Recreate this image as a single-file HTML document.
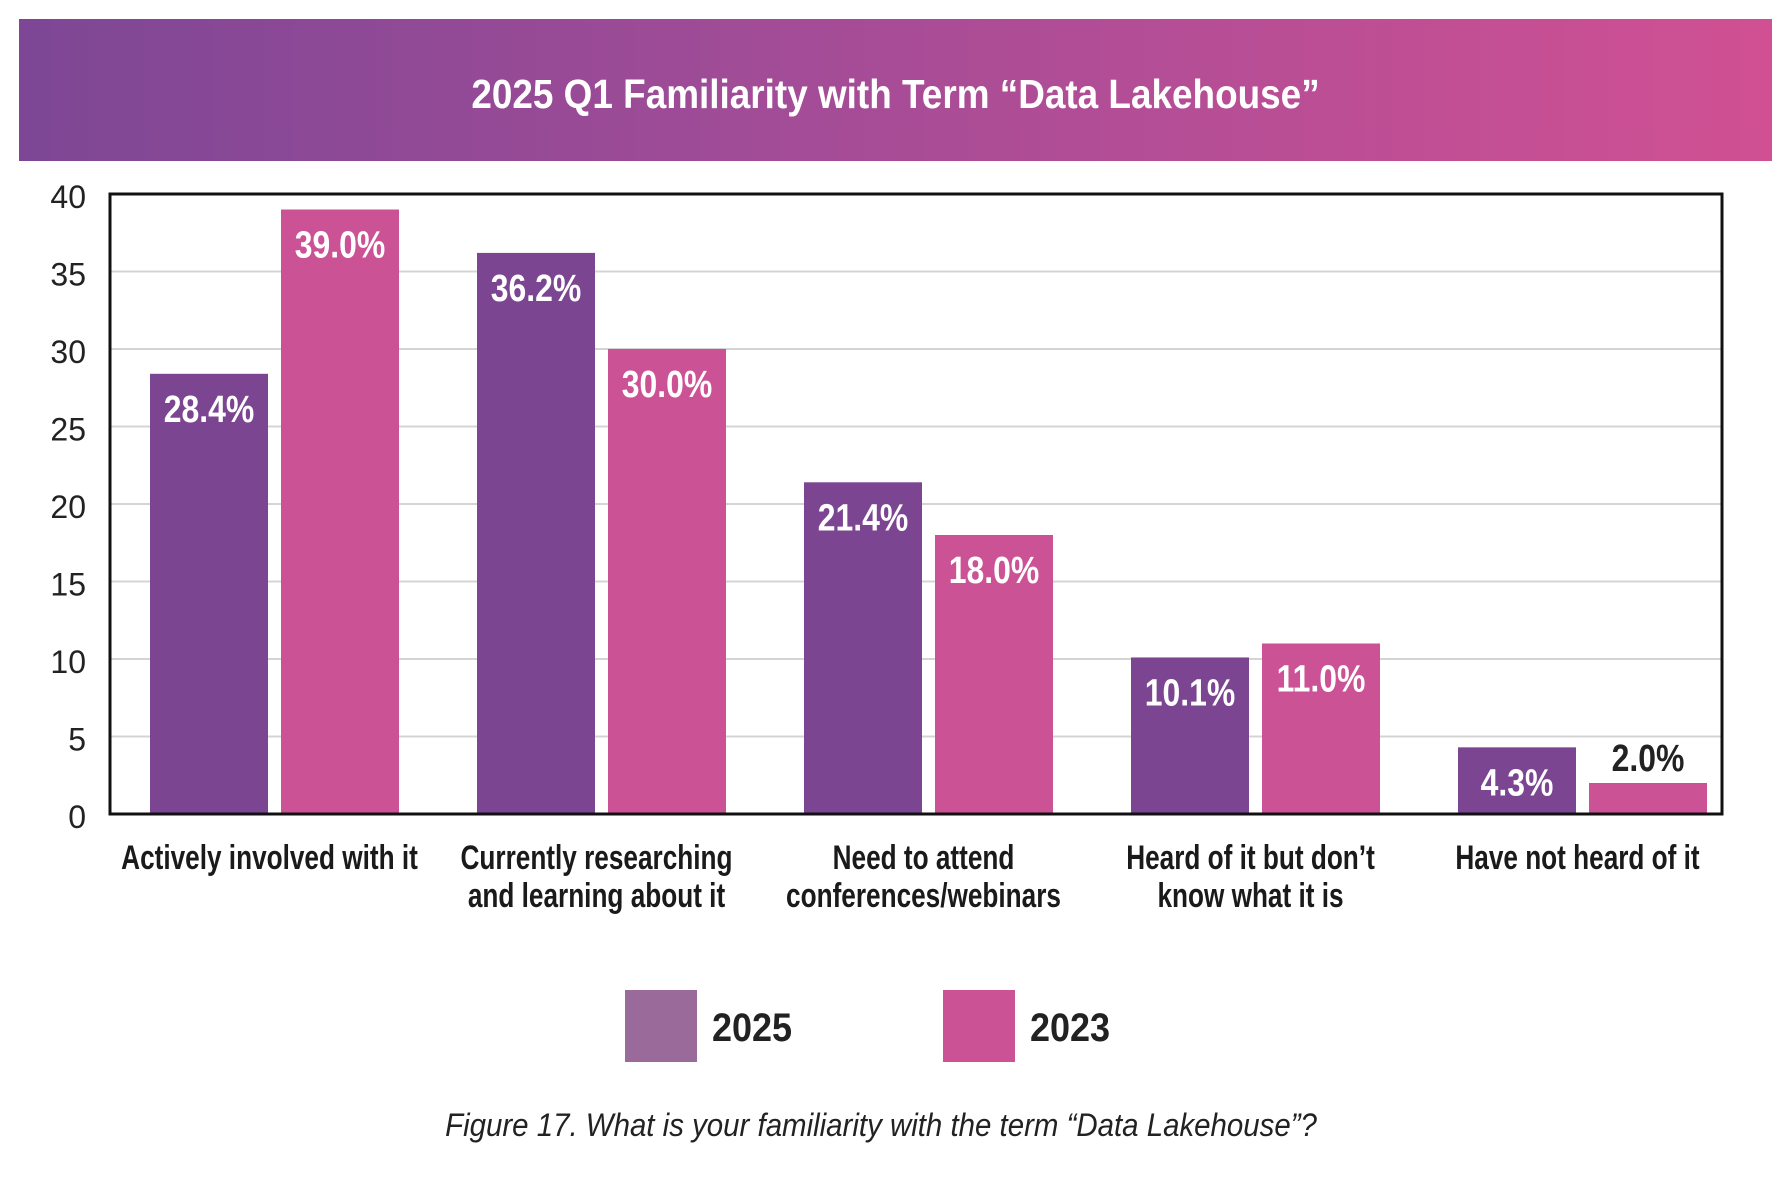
<!DOCTYPE html>
<html><head><meta charset="utf-8">
<style>
body{margin:0;background:#fff;width:1792px;height:1181px;overflow:hidden;font-family:"Liberation Sans",sans-serif;}
#title-band{position:absolute;left:19px;top:19px;width:1753px;height:142px;background:linear-gradient(90deg,#7d4795,#a44c97 45%,#d05093);}
#title-band span{position:absolute;left:0;right:0;top:52px;text-align:center;color:#fff;font-weight:bold;font-size:41px;transform:scaleX(0.9);}
svg{position:absolute;left:0;top:0;}
</style></head><body>
<div id="title-band"><span>2025 Q1 Familiarity with Term “Data Lakehouse”</span></div>
<svg id="chart" width="1792" height="1181"></svg>
<script>
const categories=[["Actively involved with it"],["Currently researching","and learning about it"],["Need to attend","conferences/webinars"],["Heard of it but don’t","know what it is"],["Have not heard of it"]];
const values2025=[28.4,36.2,21.4,10.1,4.3];
const values2023=[39.0,30.0,18.0,11.0,2.0];
const yTicks=[0,5,10,15,20,25,30,35,40];
const seriesNames=["2025","2023"];
const NS="http://www.w3.org/2000/svg";
const svg=document.getElementById('chart');
const L=110,R=1722,T=194,B=814,yMax=40;
const y=v=>B-(v/yMax)*(B-T);
const g0=150,gs=327,bw=118,gap=13;
function mk(tag,attrs,parent){const e=document.createElementNS(NS,tag);for(const k in attrs)e.setAttribute(k,attrs[k]);(parent||svg).appendChild(e);return e;}
yTicks.forEach(t=>{
  if(t>0&&t<yMax){const l=mk('line',{x1:L,x2:R,y1:y(t),y2:y(t),stroke:'#d4d4d4','stroke-width':2});
  
  }
  const tx=mk('text',{x:86,y:y(t)+14,'text-anchor':'end','font-size':32,fill:'#222'});
  tx.textContent=t;
  
  
});
const cols=['#7b4592','#cc5296'];
categories.forEach((c,i)=>{
  [values2025[i],values2023[i]].forEach((v,s)=>{
    const x=g0+i*gs+s*(bw+gap);
    const r=mk('rect',{x:x,y:y(v),width:bw,height:B-y(v),fill:cols[s]});
    
    
    const inside=(B-y(v))>50;
    const ty=inside?y(v)+48:y(v)-12;
    const t=mk('text',{x:0,y:0,transform:'translate('+(x+bw/2)+','+ty+') scale(0.84,1)','text-anchor':'middle','font-size':38,'font-weight':'bold',fill:inside?'#fff':'#222'});
    t.textContent=v.toFixed(1)+'%';
    
    
  });
  const cx=g0+i*gs+bw+gap/2-5;
  c.forEach((line,j)=>{
    const t=mk('text',{x:0,y:0,transform:'translate('+cx+','+(869+j*38)+') scale(0.77,1)','text-anchor':'middle','font-size':34,'font-weight':'bold',fill:'#1a1a1a'});
    t.textContent=line;
    
    
  });
});
const f=mk('rect',{x:L,y:T,width:R-L,height:B-T,fill:'none',stroke:'#111','stroke-width':3});


const legCols=['#9a6a9a','#cc5296'];
[625,943].forEach((lx,s)=>{
  const r=mk('rect',{x:lx,y:990,width:72,height:72,fill:legCols[s]});
  
  
  const t=mk('text',{x:0,y:0,transform:'translate('+(lx+87)+',1041) scale(0.9,1)','font-size':40,'font-weight':'bold',fill:'#222'});
  t.textContent=seriesNames[s];
  
  
});
const cap=mk('text',{x:0,y:0,transform:'translate(881,1136) scale(0.92,1)','text-anchor':'middle','font-size':32,'font-style':'italic',fill:'#222'});
cap.textContent='Figure 17. What is your familiarity with the term “Data Lakehouse”?';


</script>
</body></html>
